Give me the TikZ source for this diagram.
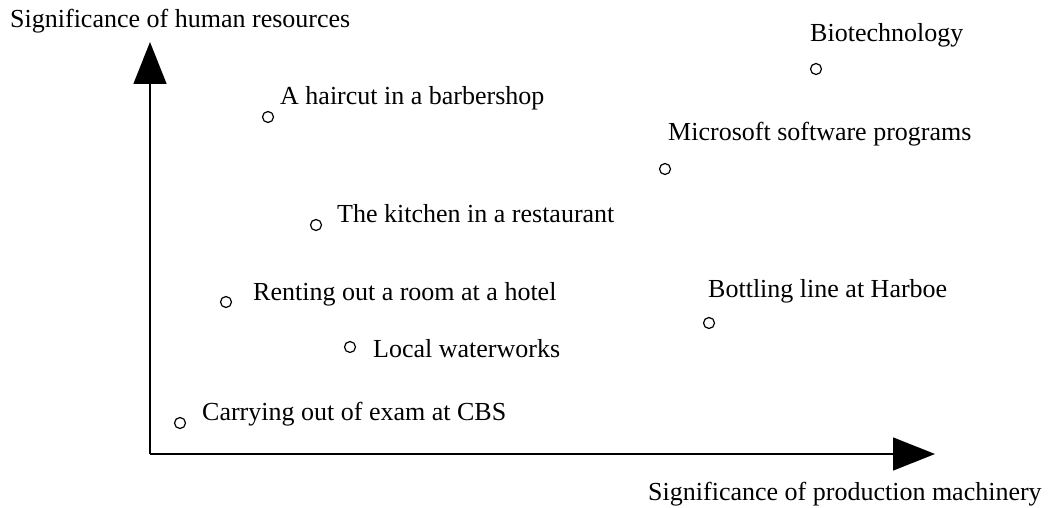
\documentclass[tikz,border=0pt]{standalone}
\usepackage{fontspec}
\setmainfont{Liberation Serif}
\usetikzlibrary{arrows.meta}
\begin{document}
\begin{tikzpicture}[x=1pt,y=-1pt,
  lbl/.style={anchor=base west,inner sep=0pt,font=\fontsize{26}{30}\selectfont},
  dot/.style={circle,draw,line width=1.2pt,minimum size=11pt,inner sep=0pt},
  axis/.style={line width=1.5pt,-{Triangle[length=42pt,width=33pt]}}]
\useasboundingbox (0,0) rectangle (1051,508);

% axes
\coordinate (o) at (150,454);
\coordinate (ytip) at (150,42);
\coordinate (xtip) at (935,454);
\draw[axis] (o) -- (ytip);
\draw[axis] (o) -- (xtip);
\node[lbl] (ylab) at (10,28) {Significance of human resources};
\node[lbl] (xlab) at (648,500) {Significance of production machinery};

% data points
\node[dot] (p1) at (816,69) {};
\node[lbl] (t1) at (810,42) {Biotechnology};
\node[dot] (p2) at (268,117) {};
\node[lbl] (t2) at (280,105) {A haircut in a barbershop};
\node[dot] (p3) at (665,169) {};
\node[lbl] (t3) at (668,140) {Microsoft software programs};
\node[dot] (p4) at (316,225) {};
\node[lbl] (t4) at (337,222) {The kitchen in a restaurant};
\node[dot] (p5) at (226,302) {};
\node[lbl] (t5) at (253,300) {Renting out a room at a hotel};
\node[dot] (p6) at (709,323) {};
\node[lbl] (t6) at (708,297) {Bottling line at Harboe};
\node[dot] (p7) at (350,347) {};
\node[lbl] (t7) at (373,357) {Local waterworks};
\node[dot] (p8) at (180,423) {};
\node[lbl] (t8) at (202,420) {Carrying out of exam at CBS};
\end{tikzpicture}
\end{document}
